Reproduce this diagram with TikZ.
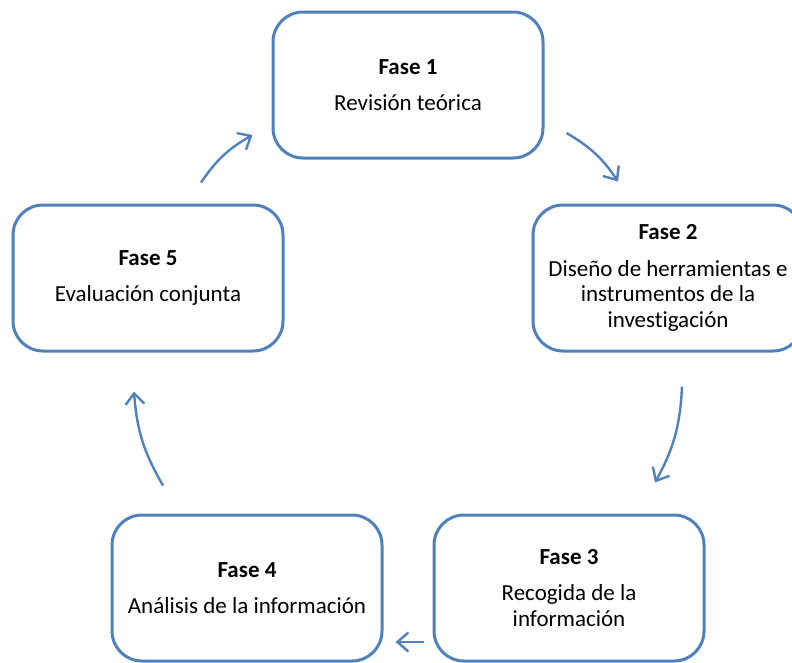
\documentclass[tikz,border=0pt]{standalone}
\usepackage{fontspec}
\setmainfont[Ligatures=NoCommon]{Carlito}
\usetikzlibrary{arrows.meta}
\definecolor{azul}{RGB}{79,129,189}

\begin{document}
\begin{tikzpicture}[x=1pt,y=1pt,>={Straight Barb[length=11pt,width=19pt]},
		fase/.style={draw=azul, line width=3pt, rounded corners=30pt, minimum width=270pt, minimum height=146pt, align=center, font=\fontsize{23}{25.5}\selectfont},
		flecha/.style={->, draw=azul, line width=2.4pt}]
		\useasboundingbox (0,0) rectangle (792,-662);
		\clip (0,0) rectangle (792,-662);
		%Fasi
		\node [fase] (f1) at (408,-85) {\textbf{Fase 1}\\[10pt]Revisión teórica};
		\node [fase] (f2) at (668,-278) {\textbf{Fase 2}\\[11pt]Diseño de herramientas e\\instrumentos de la\\investigación};
		\node [fase] (f3) at (569,-588) {\textbf{Fase 3}\\[11pt]Recogida de la\\información};
		\node [fase] (f4) at (247,-588) {\textbf{Fase 4}\\[10pt]Análisis de la información};
		\node [fase] (f5) at (148,-278) {\textbf{Fase 5}\\[10pt]Evaluación conjunta};
		%Frecce
		\draw [flecha] ([shift={(22,-48)}]f1.east) to [bend left=13] ([shift={(-50,22)}]f2.north);
		\draw [flecha] ([shift={(14,-34)}]f2.south) to [bend left=13] ([shift={(86,31)}]f3.north);
		\draw [flecha] ([shift={(-9,-54)}]f3.west) -- ([shift={(12,-54)}]f4.east);
		\draw [flecha] ([shift={(-84,28)}]f4.north) to [bend left=13] ([shift={(-14,-39)}]f5.south);
		\draw [flecha] ([shift={(53,21)}]f5.north) to [bend left=13] ([shift={(-19,-50)}]f1.west);
	\end{tikzpicture}
\end{document}
